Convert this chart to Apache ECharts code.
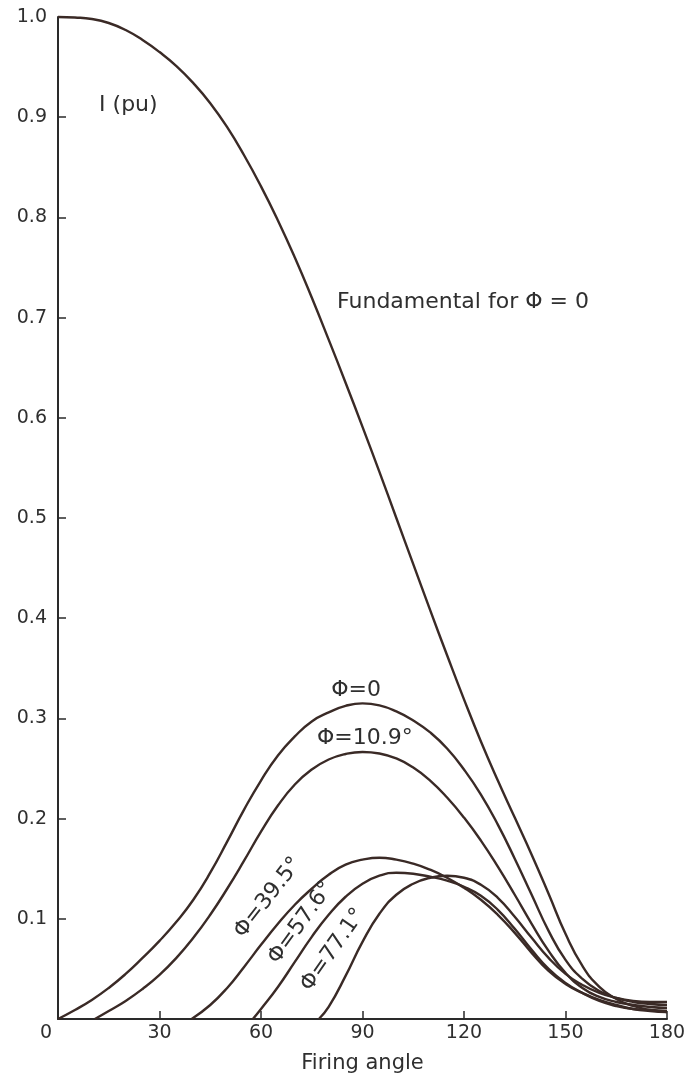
<!DOCTYPE html>
<html>
<head>
<meta charset="utf-8">
<script src="https://cdn.jsdelivr.net/npm/echarts@6/dist/echarts.min.js"></script>
<style>
  html, body { margin: 0; padding: 0; background: #ffffff; overflow: hidden; }
  #chart { width: 689px; height: 1078px; }
</style>
</head>
<body>
<div id="chart"></div>
<script>
// Firing angle (degrees) sample points
const anglesFull = [0, 5, 10, 15, 20, 25, 30, 35, 40, 45, 50, 55, 60, 65, 70, 75, 80, 85, 90,
  95, 100, 105, 110, 115, 120, 125, 130, 135, 140, 145, 150, 155, 160, 165, 170, 175, 180];

// Fundamental current for phi = 0 (pu)
const fundamental = [1.000, 0.9995, 0.998, 0.994, 0.987, 0.977, 0.965, 0.951, 0.934, 0.914,
  0.890, 0.862, 0.831, 0.797, 0.760, 0.720, 0.678, 0.635, 0.591, 0.546, 0.500, 0.454, 0.408,
  0.363, 0.319, 0.277, 0.238, 0.201, 0.164, 0.125, 0.085, 0.053, 0.032, 0.020, 0.013, 0.009, 0.007];

// Harmonic current, phi = 0
const harmPhi0 = [0, 0.009, 0.019, 0.031, 0.045, 0.061, 0.078, 0.097, 0.119, 0.146, 0.177,
  0.209, 0.238, 0.263, 0.282, 0.297, 0.306, 0.3125, 0.315, 0.313, 0.307, 0.298, 0.286, 0.270,
  0.249, 0.224, 0.194, 0.160, 0.124, 0.088, 0.059, 0.040, 0.028, 0.021, 0.017, 0.015, 0.014];

// Harmonic current, phi = 10.9 deg
const anglesPhi10 = [10.9, 15, 20, 25, 30, 35, 40, 45, 50, 55, 60, 65, 70, 75, 80, 85, 90, 95,
  100, 105, 110, 115, 120, 125, 130, 135, 140, 145, 150, 155, 160, 165, 170, 175, 180];
const harmPhi10 = [0, 0.008, 0.018, 0.030, 0.044, 0.061, 0.081, 0.104, 0.130, 0.158, 0.187,
  0.213, 0.234, 0.249, 0.259, 0.2645, 0.2665, 0.265, 0.260, 0.251, 0.238, 0.221, 0.201, 0.178,
  0.152, 0.124, 0.095, 0.068, 0.046, 0.031, 0.022, 0.017, 0.014, 0.012, 0.011];

// Harmonic current, phi = 39.5 deg
const anglesPhi39 = [39.5, 45, 50, 55, 60, 65, 70, 75, 80, 85, 90, 95, 100, 105, 110, 115,
  120, 125, 130, 135, 140, 145, 150, 155, 160, 165, 170, 175, 180];
const harmPhi39 = [0, 0.014, 0.031, 0.052, 0.074, 0.095, 0.114, 0.130, 0.144, 0.154, 0.159,
  0.161, 0.159, 0.155, 0.149, 0.141, 0.131, 0.119, 0.104, 0.086, 0.066, 0.048, 0.035, 0.026,
  0.019, 0.014, 0.010, 0.008, 0.007];

// Harmonic current, phi = 57.6 deg
const anglesPhi57 = [57.6, 60, 65, 70, 75, 80, 85, 90, 95, 100, 105, 110, 115, 120, 125, 130,
  135, 140, 145, 150, 155, 160, 165, 170, 175, 180];
const harmPhi57 = [0, 0.010, 0.032, 0.057, 0.082, 0.104, 0.122, 0.135, 0.143, 0.146, 0.145,
  0.142, 0.138, 0.132, 0.123, 0.109, 0.090, 0.069, 0.050, 0.036, 0.026, 0.018, 0.013, 0.010,
  0.009, 0.008];

// Harmonic current, phi = 77.1 deg
const anglesPhi77 = [77.1, 80, 85, 90, 95, 100, 105, 110, 115, 120, 125, 130, 135, 140, 145,
  150, 155, 160, 165, 170, 175, 180];
const harmPhi77 = [0, 0.012, 0.043, 0.077, 0.105, 0.124, 0.135, 0.141, 0.143, 0.141, 0.134,
  0.121, 0.102, 0.081, 0.061, 0.045, 0.034, 0.026, 0.021, 0.018, 0.017, 0.017];

// Curve annotations: text, anchor [angle, pu], rotation (deg)
const annotations = [
  { text: 'I (pu)', at: [20.8, 0.912], rotate: 0 },
  { text: 'Fundamental for \u03A6 = 0', at: [119.7, 0.715], rotate: 0 },
  { text: '\u03A6=0', at: [88.1, 0.328], rotate: 0 },
  { text: '\u03A6=10.9\u00B0', at: [90.7, 0.280], rotate: 0 },
  { text: '\u03A6=39.5\u00B0', at: [62.1, 0.121], rotate: 52 },
  { text: '\u03A6=57.6\u00B0', at: [71.8, 0.096], rotate: 54 },
  { text: '\u03A6=77.1\u00B0', at: [81.3, 0.069], rotate: 55 }
];

const X_MIN = 0, X_MAX = 180, X_STEP = 30;
const Y_MIN = 0, Y_MAX = 1.0, Y_STEP = 0.1;
const xAxisTitle = 'Firing angle';

const INK = '#3a2a26';
const TEXT = '#2f2f2f';
const FONT = '"DejaVu Sans", "Liberation Sans", sans-serif';

function pairs(xs, ys) {
  return xs.map((x, i) => [x, ys[i]]);
}

function curve(name, xs, ys) {
  return {
    name: name,
    type: 'line',
    data: pairs(xs, ys),
    smooth: 0.5,
    showSymbol: false,
    symbol: 'none',
    clip: false,
    lineStyle: { color: INK, width: 2.4 },
    silent: true
  };
}

const series = [
  curve('fundamental', anglesFull, fundamental),
  curve('phi0', anglesFull, harmPhi0),
  curve('phi10.9', anglesPhi10, harmPhi10),
  curve('phi39.5', anglesPhi39, harmPhi39),
  curve('phi57.6', anglesPhi57, harmPhi57),
  curve('phi77.1', anglesPhi77, harmPhi77)
];

// Text labels placed in data coordinates
series.push({
  name: 'labels',
  type: 'scatter',
  silent: true,
  symbolSize: 1,
  itemStyle: { color: '#ffffff', opacity: 1 },
  z: 5,
  data: annotations.map(a => ({
    value: a.at,
    label: {
      show: true,
      position: 'inside',
      formatter: a.text,
      rotate: a.rotate,
      color: TEXT,
      opacity: 1,
      fontFamily: FONT,
      fontSize: 22
    }
  }))
});

const chart = echarts.init(document.getElementById('chart'), null, { renderer: 'canvas' });
chart.setOption({
  animation: false,
  backgroundColor: '#ffffff',
  grid: { left: 58, right: 22, top: 17, bottom: 59, containLabel: false, outerBoundsMode: 'none' },
  xAxis: {
    type: 'value',
    min: X_MIN, max: X_MAX, interval: X_STEP,
    name: xAxisTitle,
    nameLocation: 'middle',
    nameGap: 34,
    nameTextStyle: { color: TEXT, fontFamily: FONT, fontSize: 21 },
    axisLine: { show: true, onZero: false, lineStyle: { color: '#2a2a2a', width: 2 } },
    axisTick: { show: true, inside: true, length: 8, lineStyle: { color: '#2a2a2a', width: 1.5 } },
    axisLabel: {
      color: TEXT, fontFamily: FONT, fontSize: 19, margin: 5,
      formatter: v => (v === 0 ? '{o|0}' : String(v)),
      rich: { o: { color: TEXT, fontFamily: FONT, fontSize: 19, padding: [0, 24, 0, 0] } }
    },
    splitLine: { show: false }
  },
  yAxis: {
    type: 'value',
    min: Y_MIN, max: Y_MAX, interval: Y_STEP,
    axisLine: { show: true, onZero: false, lineStyle: { color: '#2a2a2a', width: 2 } },
    axisTick: { show: true, inside: true, length: 8, lineStyle: { color: '#2a2a2a', width: 1.5 } },
    axisLabel: {
      color: TEXT, fontFamily: FONT, fontSize: 19, margin: 11,
      formatter: v => (v === 0 ? '' : v.toFixed(1))
    },
    splitLine: { show: false }
  },
  series: series
});
</script>
</body>
</html>
